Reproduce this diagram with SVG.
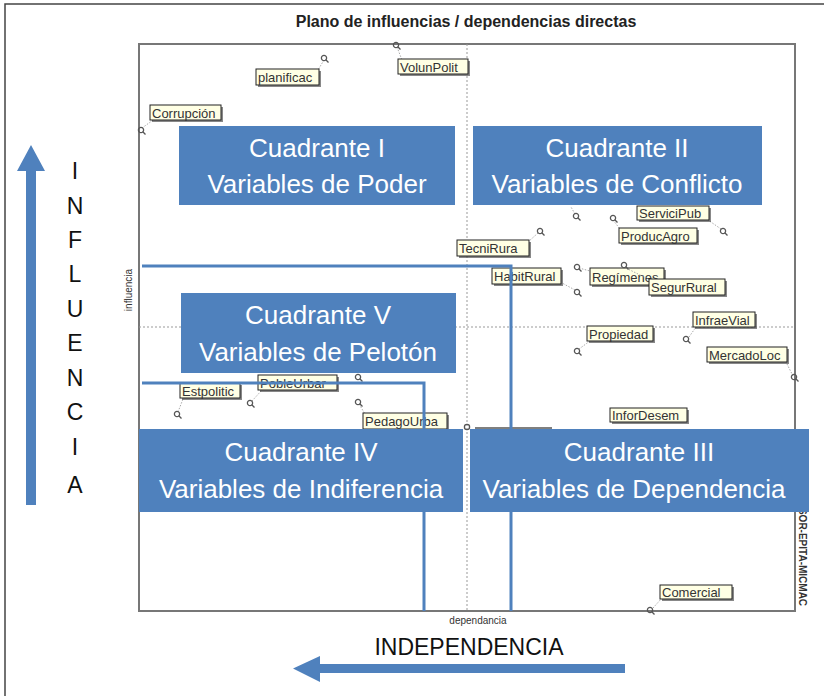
<svg xmlns="http://www.w3.org/2000/svg" width="824" height="696" viewBox="0 0 824 696">
<style>
.frame{fill:none;stroke:#444;stroke-width:1.5}
.plot{fill:none;stroke:#777;stroke-width:2}
.grid{stroke:#999;stroke-width:1;stroke-dasharray:2,2;fill:none}
.quad{fill:#4f81bd}
.qt{font-family:"Liberation Sans",Arial,sans-serif;font-size:26px;fill:#fff;text-anchor:middle}
.bl{fill:none;stroke:#4f81bd;stroke-width:3}
.lbl{fill:#ffffe4;stroke:#222;stroke-width:1}
.sh{fill:#555;opacity:0.7}
.lt{font-family:"Liberation Sans",Arial,sans-serif;font-size:13px;fill:#333}
.pt{fill:none;stroke:#555;stroke-width:1.3}
.lead{stroke:#aaa;stroke-width:1;stroke-dasharray:1.5,1.5;fill:none}
.big{font-family:"Liberation Sans",Arial,sans-serif;font-size:23px;fill:#111;text-anchor:middle}
.small{font-family:"Liberation Sans",Arial,sans-serif;font-size:10px;fill:#333}
.arrow{fill:#4f81bd}
</style>
<defs>
<g id="pin"><circle cx="0" cy="0" r="2.6" class="pt"/><line x1="1.8" y1="1.8" x2="4.5" y2="4.5" class="pt"/></g>
</defs>
<rect width="824" height="696" fill="#fff"/>
<path class="frame" d="M5,696 V4 H824"/>
<text x="466" y="27" font-family="Liberation Sans,Arial,sans-serif" font-size="16" font-weight="bold" fill="#222" text-anchor="middle">Plano de influencias / dependencias directas</text>

<g id="plot">
<rect class="plot" x="139" y="44" width="656" height="567"/>
<line class="grid" x1="467" y1="44" x2="467" y2="611"/>
<line class="grid" x1="139" y1="327" x2="795" y2="327"/>
<line x1="475" y1="428" x2="552" y2="428" stroke="#555" stroke-width="1.5"/>
<circle cx="467" cy="427" r="2.6" class="pt"/>
<text class="small" transform="translate(132,290) rotate(-90)" text-anchor="middle" font-size="9">influencia</text>
<text class="small" x="478" y="624" text-anchor="middle">dependancia</text>
<text class="small" transform="translate(799,557) rotate(90)" text-anchor="middle" font-size="9" font-weight="bold">SOR-EPITA-MICMAC</text>
</g>

<g id="points">
<g id="p-VolunPolit"><line class="lead" x1="397" y1="47" x2="402" y2="60"/><use href="#pin" x="396" y="45"/><rect class="sh" x="400" y="61" width="70" height="15"/><rect class="lbl" x="398" y="59" width="70" height="15"/><text class="lt" x="400" y="71.5">VolunPolit</text></g>
<g id="p-planificac"><line class="lead" x1="324" y1="60" x2="318" y2="70"/><use href="#pin" x="324" y="58"/><rect class="sh" x="258" y="71" width="63" height="16"/><rect class="lbl" x="256" y="69" width="63" height="16"/><text class="lt" x="258" y="82">planificac</text></g>
<g id="p-Corrupcion"><line class="lead" x1="142" y1="128" x2="156" y2="118"/><use href="#pin" x="141" y="130"/><rect class="sh" x="152" y="107" width="71" height="15"/><rect class="lbl" x="150" y="105" width="71" height="15"/><text class="lt" x="152" y="117.5">Corrupción</text></g>
<g id="p-ServiciPub"><line class="lead" x1="721" y1="229" x2="708" y2="220"/><use href="#pin" x="723" y="231"/><rect class="sh" x="639" y="208" width="72" height="14"/><rect class="lbl" x="637" y="206" width="72" height="14"/><text class="lt" x="639" y="218">ServiciPub</text></g>
<g id="p-ProducAgro"><line class="lead" x1="613" y1="220" x2="620" y2="229"/><use href="#pin" x="613" y="218"/><rect class="sh" x="621" y="230" width="78" height="15"/><rect class="lbl" x="619" y="228" width="78" height="15"/><text class="lt" x="621" y="240.5">ProducAgro</text></g>
<g id="p-x1"><line class="lead" x1="575" y1="214" x2="571" y2="207"/><use href="#pin" x="576" y="216"/></g>
<g id="p-TecniRura"><line class="lead" x1="538" y1="233" x2="528" y2="242"/><use href="#pin" x="540" y="231"/><rect class="sh" x="459" y="242" width="72" height="16"/><rect class="lbl" x="457" y="240" width="72" height="16"/><text class="lt" x="459" y="253">TecniRura</text></g>
<g id="p-HabitRural"><line class="lead" x1="575" y1="290" x2="562" y2="283"/><use href="#pin" x="577" y="292"/><rect class="sh" x="494" y="270" width="69" height="16"/><rect class="lbl" x="492" y="268" width="69" height="16"/><text class="lt" x="494" y="281">HabitRural</text></g>
<g id="p-Regimenes"><line class="lead" x1="579" y1="268" x2="590" y2="271"/><use href="#pin" x="577" y="267"/><rect class="sh" x="592" y="270" width="74" height="17"/><rect class="lbl" x="590" y="268" width="74" height="17"/><text class="lt" x="592" y="281.5">Regímenes</text></g>
<g id="p-SegurRural"><line class="lead" x1="626" y1="268" x2="650" y2="280"/><use href="#pin" x="624" y="265"/><rect class="sh" x="651" y="281" width="76" height="16"/><rect class="lbl" x="649" y="279" width="76" height="16"/><text class="lt" x="651" y="292">SegurRural</text></g>
<g id="p-InfraeVial"><line class="lead" x1="689" y1="337" x2="696" y2="327"/><use href="#pin" x="686" y="339"/><rect class="sh" x="695" y="314" width="62" height="15"/><rect class="lbl" x="693" y="312" width="62" height="15"/><text class="lt" x="695" y="324.5">InfraeVial</text></g>
<g id="p-Propiedad"><line class="lead" x1="579" y1="349" x2="590" y2="341"/><use href="#pin" x="577" y="351"/><rect class="sh" x="589" y="328" width="66" height="15"/><rect class="lbl" x="587" y="326" width="66" height="15"/><text class="lt" x="589" y="338.5">Propiedad</text></g>
<g id="p-MercadoLoc"><line class="lead" x1="793" y1="376" x2="786" y2="362"/><use href="#pin" x="794" y="377"/><rect class="sh" x="709" y="349" width="80" height="15"/><rect class="lbl" x="707" y="347" width="80" height="15"/><text class="lt" x="709" y="359.5">MercadoLoc</text></g>
<g id="p-Estpolitic"><line class="lead" x1="178" y1="412" x2="183" y2="399"/><use href="#pin" x="177" y="414"/><rect class="sh" x="182" y="385" width="60" height="15"/><rect class="lbl" x="180" y="383" width="60" height="15"/><text class="lt" x="182" y="395.5">Estpolitic</text></g>
<g id="p-PobleUrbar"><line class="lead" x1="252" y1="401" x2="262" y2="390"/><use href="#pin" x="250" y="403"/><rect class="sh" x="260" y="377" width="79" height="15"/><rect class="lbl" x="258" y="375" width="79" height="15"/><text class="lt" x="260" y="387.5">PobleUrbar</text></g>
<g id="p-x2"><use href="#pin" x="358" y="377"/></g>
<g id="p-PedagoUrba"><line class="lead" x1="359" y1="404" x2="365" y2="414"/><use href="#pin" x="358" y="402"/><rect class="sh" x="365" y="415" width="84" height="16"/><rect class="lbl" x="363" y="413" width="84" height="16"/><text class="lt" x="365" y="426">PedagoUrba</text></g>
<g id="p-InforDesem"><rect class="sh" x="612" y="410" width="77" height="14"/><rect class="lbl" x="610" y="408" width="77" height="14"/><text class="lt" x="612" y="420">InforDesem</text></g>
<g id="p-Comercial"><line class="lead" x1="653" y1="608" x2="662" y2="598"/><use href="#pin" x="650" y="610"/><rect class="sh" x="662" y="587" width="72" height="14"/><rect class="lbl" x="660" y="585" width="72" height="14"/><text class="lt" x="662" y="597">Comercial</text></g>
</g>

<g id="connectors">
<polyline class="bl" points="142,266 511,266 511,611"/>
<polyline class="bl" points="142,383 424,383 424,611"/>
</g>

<g id="q1"><rect class="quad" x="179" y="126" width="276" height="79"/><text class="qt" x="317" y="157">Cuadrante I</text><text class="qt" x="317" y="193">Variables de Poder</text></g>
<g id="q2"><rect class="quad" x="473" y="126" width="289" height="79"/><text class="qt" x="617" y="157">Cuadrante II</text><text class="qt" x="617" y="193">Variables de Conflicto</text></g>
<g id="q5"><rect class="quad" x="181" y="293" width="275" height="80"/><text class="qt" x="318" y="324">Cuadrante V</text><text class="qt" x="318" y="361">Variables de Pelotón</text></g>
<g id="q4"><rect class="quad" x="139" y="429" width="324" height="83"/><text class="qt" x="301" y="461">Cuadrante IV</text><text class="qt" x="301" y="498">Variables de Indiferencia</text></g>
<g id="q3"><rect class="quad" x="470" y="429" width="339" height="83"/><text class="qt" x="639" y="461">Cuadrante III</text><text class="qt" x="634" y="498">Variables de Dependencia</text></g>

<g id="axis-influencia">
<path class="arrow" d="M26,505 V171 H17 L31,145 L45,171 H36 V505 Z"/>
<g class="big">
<text x="75" y="179">I</text><text x="75" y="214">N</text><text x="75" y="248">F</text><text x="75" y="282">L</text><text x="75" y="317">U</text><text x="75" y="351">E</text><text x="75" y="386">N</text><text x="75" y="420">C</text><text x="75" y="455">I</text><text x="75" y="493">A</text>
</g>
</g>
<g id="axis-independencia">
<path class="arrow" d="M625,664 H320 V656 L293,668.5 L320,682 V673 H625 Z"/>
<text class="big" x="469" y="655" font-size="22">INDEPENDENCIA</text>
</g>
</svg>
